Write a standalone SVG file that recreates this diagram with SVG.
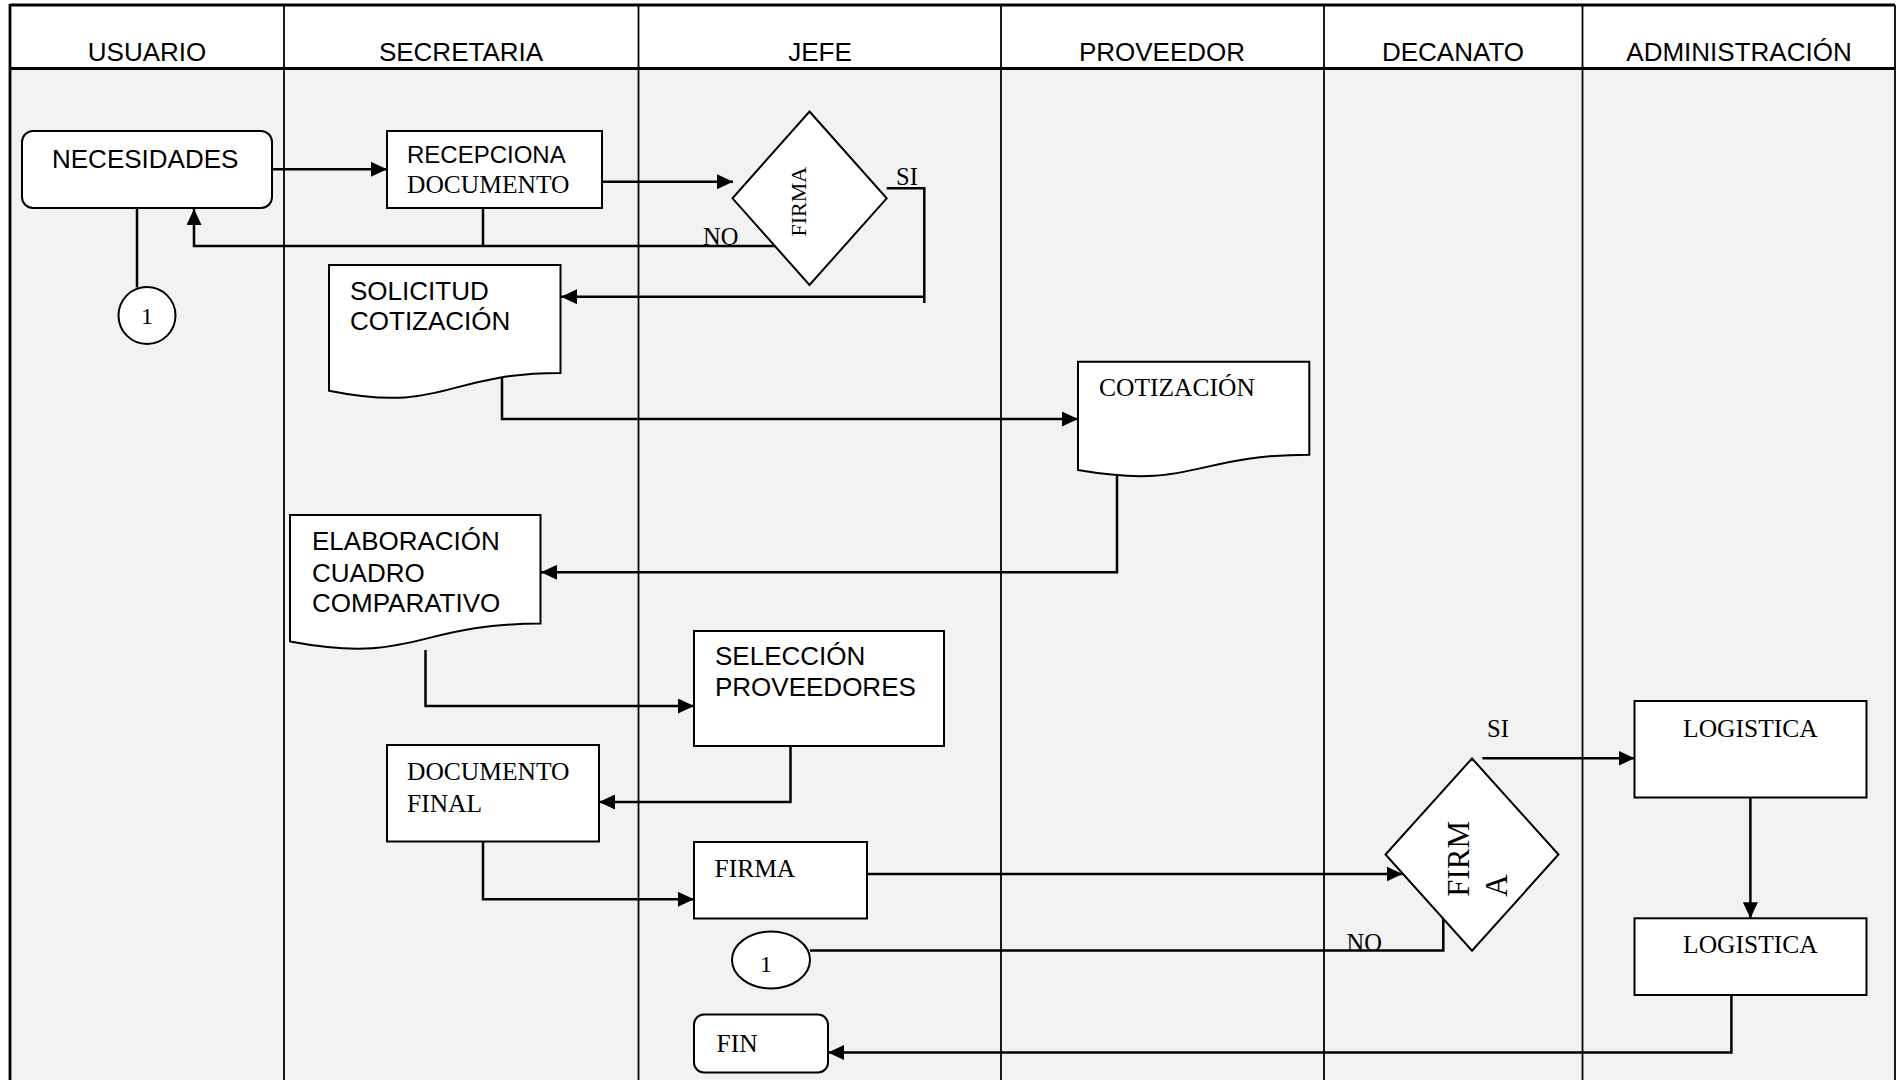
<svg xmlns="http://www.w3.org/2000/svg" width="1896" height="1080" viewBox="0 0 1896 1080">
<defs>
<marker id="arr" markerUnits="userSpaceOnUse" markerWidth="16" markerHeight="15" refX="16" refY="7.5" orient="auto">
<path d="M0,0 L16,7.5 L0,15 z" fill="#000"/>
</marker>
<style>
.lane{stroke:#000;stroke-width:1.8;fill:none}
.border{stroke:#000;stroke-width:2.8;fill:none}
.hdr{font-family:"Liberation Sans",Arial,sans-serif;font-size:26px;fill:#000;text-anchor:middle}
.box{fill:#fff;stroke:#000;stroke-width:2}
.sans{font-family:"Liberation Sans",Arial,sans-serif;font-size:26px;fill:#000}
.serif{font-family:"Liberation Serif","Times New Roman",serif;font-size:25.5px;fill:#000}
.lbl{font-family:"Liberation Serif","Times New Roman",serif;font-size:24.5px;fill:#000}
.con{fill:none;stroke:#000;stroke-width:2.5}
.arrow{marker-end:url(#arr)}
</style>
</defs>

<g id="lanes">
<rect x="10" y="5" width="1885" height="63.5" fill="#fff"/>
<rect x="10" y="68.5" width="1885" height="1011.5" fill="#f2f2f2"/>
<line class="lane" x1="284" y1="5" x2="284" y2="1080"/>
<line class="lane" x1="638.5" y1="5" x2="638.5" y2="1080"/>
<line class="lane" x1="1001" y1="5" x2="1001" y2="1080"/>
<line class="lane" x1="1324" y1="5" x2="1324" y2="1080"/>
<line class="lane" x1="1582.5" y1="5" x2="1582.5" y2="1080"/>
<line class="lane" x1="1895" y1="5" x2="1895" y2="1080"/>
<line class="border" x1="10" y1="5" x2="1895" y2="5"/>
<line class="border" x1="10" y1="68.5" x2="1895" y2="68.5"/>
<line class="border" x1="10" y1="4" x2="10" y2="1080"/>
<text class="hdr" x="147" y="61">USUARIO</text>
<text class="hdr" x="461" y="61">SECRETARIA</text>
<text class="hdr" x="820" y="61">JEFE</text>
<text class="hdr" x="1162" y="61">PROVEEDOR</text>
<text class="hdr" x="1453" y="61">DECANATO</text>
<text class="hdr" x="1739" y="61">ADMINISTRACIÓN</text>
</g>

<g id="connectors">
<path class="con arrow" d="M272,169.3 H387"/>
<path class="con arrow" d="M602,181.7 H733"/>
<path class="con arrow" d="M886.7,188.3 H924.3 V303 M924.3,296.7 H561"/>
<path class="con" d="M483,208 V246"/>
<path class="con arrow" d="M774.7,246 H194 V209"/>
<path class="con" d="M137,208 V287.5"/>
<path class="con arrow" d="M502,378 V419 H1078"/>
<path class="con arrow" d="M1117,476 V572.3 H541"/>
<path class="con arrow" d="M425.5,650 V706 H694"/>
<path class="con arrow" d="M790.5,746 V802 H599"/>
<path class="con arrow" d="M483,841.5 V899.3 H694"/>
<path class="con arrow" d="M867,874 H1402.5"/>
<path class="con arrow" d="M1482.4,758.3 H1634.5"/>
<path class="con arrow" d="M1750.4,797.3 V918.3"/>
<path class="con arrow" d="M1731.4,995 V1052.5 H828"/>
<path class="con" d="M810,950.5 H1443.3 V912.5"/>
<text class="lbl" x="896" y="185">SI</text>
<text class="lbl" x="703" y="245">NO</text>
<text class="lbl" x="1487" y="737">SI</text>
<text class="lbl" x="1346.5" y="950.5">NO</text>
</g>

<g id="n-necesidades">
<rect class="box" x="22" y="131" width="250" height="77" rx="11"/>
<text class="sans" x="52" y="168">NECESIDADES</text>
</g>

<g id="n-recepciona">
<rect class="box" x="387" y="131" width="215" height="77"/>
<text class="sans" x="407" y="163" style="font-size:24px">RECEPCIONA</text>
<text class="serif" x="407" y="193">DOCUMENTO</text>
</g>

<g id="n-firma1">
<polygon class="box" points="809.5,111.5 886.7,198.3 809.5,285 732.5,198.3"/>
<text class="serif" transform="translate(806,201.7) rotate(-90)" text-anchor="middle" style="font-size:22px">FIRMA</text>
</g>

<g id="n-conector1a">
<circle class="box" cx="147" cy="315.5" r="28.5"/>
<text class="serif" x="147" y="324" text-anchor="middle" style="font-size:24px">1</text>
</g>

<g id="n-solicitud">
<path class="box" d="M329,265 H560.5 V373 C444.75,373 444.75,414 329,390.7 Z"/>
<text class="sans" x="350" y="300">SOLICITUD</text>
<text class="sans" x="350" y="330">COTIZACIÓN</text>
</g>

<g id="n-cotizacion">
<path class="box" d="M1078,361.7 H1309.3 V454.7 C1193.6,454.7 1193.6,490.1 1078,470 Z"/>
<text class="serif" x="1099" y="396">COTIZACIÓN</text>
</g>

<g id="n-elaboracion">
<path class="box" d="M290,515 H540.5 V623.6 C415.25,623.6 415.25,664.9 290,641.5 Z"/>
<text class="sans" x="312" y="550">ELABORACIÓN</text>
<text class="sans" x="312" y="581.5">CUADRO</text>
<text class="sans" x="312" y="612">COMPARATIVO</text>
</g>

<g id="n-seleccion">
<rect class="box" x="694" y="631" width="250" height="115"/>
<text class="sans" x="715" y="665">SELECCIÓN</text>
<text class="sans" x="715" y="696">PROVEEDORES</text>
</g>

<g id="n-docfinal">
<rect class="box" x="387" y="745" width="212" height="96.5"/>
<text class="serif" x="407" y="780">DOCUMENTO</text>
<text class="serif" x="407" y="811.5">FINAL</text>
</g>

<g id="n-firma-box">
<rect class="box" x="694" y="842" width="173" height="76.5"/>
<text class="serif" x="714.5" y="876.5">FIRMA</text>
</g>

<g id="n-conector1b">
<ellipse class="box" cx="771" cy="960" rx="39" ry="28.5"/>
<text class="serif" x="766" y="971.5" text-anchor="middle" style="font-size:24px">1</text>
</g>

<g id="n-fin">
<rect class="box" x="694" y="1014.5" width="134" height="58" rx="10"/>
<text class="serif" x="716.5" y="1051.5">FIN</text>
</g>

<g id="n-firma2">
<polygon class="box" points="1472,758.5 1558.5,854.5 1472,950.7 1385.5,854.5"/>
<text class="serif" transform="translate(1469,896.7) rotate(-90)" style="font-size:31px"><tspan x="0" y="0">FIRM</tspan><tspan x="0" y="38">A</tspan></text>
</g>

<g id="n-logistica1">
<rect class="box" x="1634.5" y="701" width="232" height="96.5"/>
<text class="serif" x="1750.4" y="736.7" text-anchor="middle">LOGISTICA</text>
</g>

<g id="n-logistica2">
<rect class="box" x="1634.5" y="918.3" width="232" height="76.7"/>
<text class="serif" x="1750.4" y="953.3" text-anchor="middle">LOGISTICA</text>
</g>
</svg>
